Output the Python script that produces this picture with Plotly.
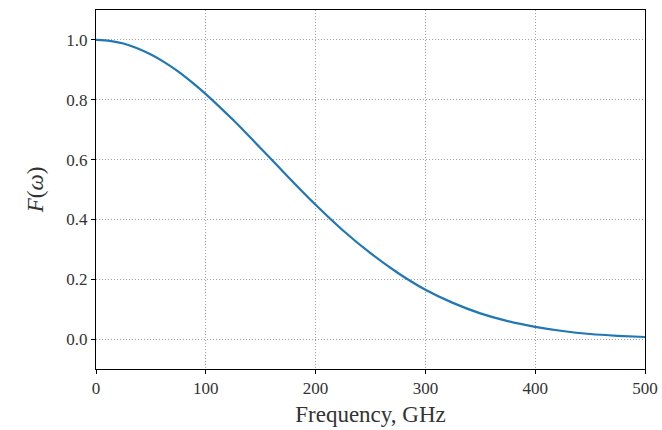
import plotly.graph_objects as go

freq_ghz = [0, 12.5, 25, 37.5, 50, 62.5, 75, 87.5, 100, 125, 150, 175, 200,
            225, 250, 275, 300, 325, 350, 375, 400, 425, 450, 475, 500]
f_omega = [1.0, 0.997, 0.988, 0.972, 0.951, 0.925, 0.894, 0.858, 0.819,
           0.732, 0.638, 0.542, 0.449, 0.363, 0.287, 0.221, 0.165, 0.121,
           0.086, 0.060, 0.041, 0.027, 0.017, 0.011, 0.007]

x_ticks = [0, 100, 200, 300, 400, 500]
x_tick_labels = ["0", "100", "200", "300", "400", "500"]
y_ticks = [0.0, 0.2, 0.4, 0.6, 0.8, 1.0]
y_tick_labels = ["0.0", "0.2", "0.4", "0.6", "0.8", "1.0"]

font_family = "Liberation Serif, DejaVu Serif, serif"

fig = go.Figure()
fig.add_trace(go.Scatter(
    x=freq_ghz, y=f_omega, mode="lines",
    line=dict(color="#1f77b4", width=2.2, shape="spline", smoothing=0.6),
    showlegend=False, hoverinfo="skip",
))

axis_common = dict(
    showline=True, linecolor="black", linewidth=1, mirror=True,
    ticks="outside", ticklen=4, tickwidth=1, tickcolor="black",
    showgrid=True, gridcolor="#a0a0a0", griddash="1px,2px", gridwidth=1,
    zeroline=False, automargin=False,
    tickfont=dict(family=font_family, size=17, color="#333"),
)

fig.update_layout(
    width=662, height=430,
    margin=dict(l=96, r=17, t=10, b=61),
    paper_bgcolor="white", plot_bgcolor="white",
    font=dict(family=font_family, color="#333"),
    xaxis=dict(
        range=[0, 500], tickvals=x_ticks, ticktext=x_tick_labels,
        title=dict(text="Frequency, GHz", font=dict(family=font_family, size=23), standoff=8),
        **axis_common,
    ),
    yaxis=dict(
        range=[-0.1, 1.1], tickvals=y_ticks, ticktext=y_tick_labels,
        title=dict(text="<i>F</i>(<i>ω</i>)", font=dict(family=font_family, size=23), standoff=16),
        **axis_common,
    ),
)

fig.write_html(
    "out.html",
    config={"displayModeBar": False},
    post_script="document.body.style.margin='0';document.body.style.overflow='hidden';",
)
